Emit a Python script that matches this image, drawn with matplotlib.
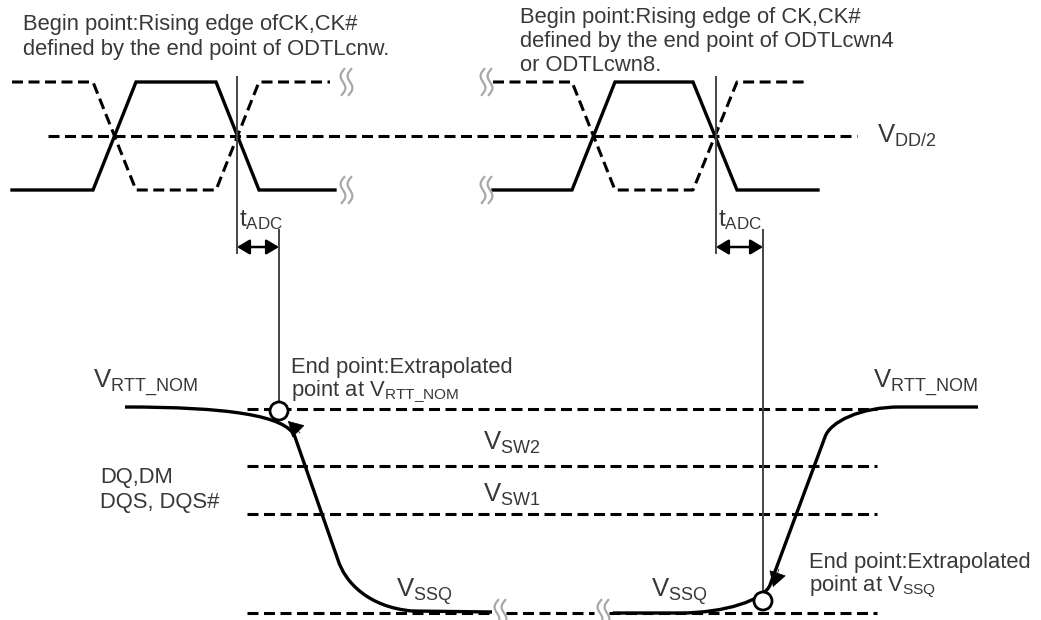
import numpy as np
import matplotlib.pyplot as plt
from matplotlib.path import Path
from matplotlib.patches import PathPatch, Circle

plt.rcParams['font.family'] = ['Liberation Sans', 'DejaVu Sans']
plt.rcParams['mathtext.fontset'] = 'custom'
plt.rcParams['mathtext.rm'] = 'Liberation Sans'
plt.rcParams['mathtext.default'] = 'regular'

# ---- diagram values (pixel-ish units, y grows downward) ----
ck_high, ck_mid, ck_low = 82, 136, 190
ck_left_x = [12, 93, 136, 216, 259, 335]
ckb_left_x = [12, 93, 136, 216, 259, 330]
ck_right_x = [493, 572, 615, 693, 737, 818]
ckb_right_x = [493, 572, 615, 693, 737, 808]
ck_y = [ck_low, ck_low, ck_high, ck_high, ck_low, ck_low]
ckb_y = [ck_high, ck_high, ck_low, ck_low, ck_high, ck_high]
vdd2_span = [48, 857]

v_rtt, v_sw2, v_sw1, v_ssq = 409, 466, 514, 613
level_span = [247, 877]
ssq_segments = [(247, 490), (506, 594), (609, 877)]

# begin points (clock crossing) and end points (extrapolated)
begin_x = [237, 716]
end_x = [279, 763]
end_y = [411, 601]
tadc_y = 247

squiggles = [(343, ck_high), (343, ck_low), (483, ck_high), (483, ck_low),
             (497, v_ssq), (600, v_ssq)]

# DQ falling edge (left) and rising edge (right), bezier control points
dq_fall = [(125, 407), (225, 407), (287, 415), (295, 437), (338, 560),
           (345, 582), (368, 607), (412, 611), (492, 612)]
dq_fall_codes = [Path.MOVETO, Path.CURVE4, Path.CURVE4, Path.CURVE4, Path.LINETO,
                 Path.CURVE4, Path.CURVE4, Path.CURVE4, Path.LINETO]
dq_rise = [(613, 613), (680, 613), (725, 613), (764, 600), (770, 585),
           (825, 437), (830, 422), (860, 407), (900, 407), (978, 407)]
dq_rise_codes = [Path.MOVETO, Path.LINETO, Path.CURVE4, Path.CURVE4, Path.CURVE4,
                 Path.LINETO, Path.CURVE4, Path.CURVE4, Path.CURVE4, Path.LINETO]

left_note = ['Begin point:Rising edge ofCK,CK#', 'defined by the end point of ODTLcnw.']
right_note = ['Begin point:Rising edge of CK,CK#', 'defined by the end point of ODTLcwn4',
              'or ODTLcwn8.']

txt = '#383838'
dash = (0, (3.6, 1.8))
lw_wave = 2.4
lw_dash = 2.2
fs = 15.8
fv = 18.5

fig = plt.figure(figsize=(10.41, 6.2), dpi=100)
ax = fig.add_axes([0, 0, 1, 1])
ax.set_xlim(0, 1041)
ax.set_ylim(620, 0)
ax.axis('off')

# clock waveforms
ax.plot(vdd2_span, [ck_mid, ck_mid], color='k', lw=lw_dash, ls=dash)
for xs in (ck_left_x, ck_right_x):
    ax.plot(xs, ck_y, color='k', lw=lw_wave, solid_joinstyle='miter')
for xs in (ckb_left_x, ckb_right_x):
    ax.plot(xs, ckb_y, color='k', lw=lw_dash, ls=dash)

# squiggles (break marks)
def squiggle(x0, y0):
    t = np.linspace(0, 1, 40)
    for dx in (0, 7):
        ax.plot(x0 + dx - 3 * np.sin(2 * np.pi * t) - 2.5 * (t - 0.5),
                y0 - 13 + 26 * t, color='#a8a8a8', lw=1.6, zorder=4)

for sx, sy in squiggles:
    squiggle(sx, sy)

# DQ level lines
for lv in (v_rtt, v_sw2, v_sw1):
    ax.plot(level_span, [lv, lv], color='k', lw=lw_dash, ls=dash)
for a, b in ssq_segments:
    ax.plot([a, b], [v_ssq, v_ssq], color='k', lw=lw_dash, ls=dash)

# DQ waveforms
ax.add_patch(PathPatch(Path(dq_fall, dq_fall_codes), fill=False, lw=lw_wave, ec='k', zorder=3))
ax.add_patch(PathPatch(Path(dq_rise, dq_rise_codes), fill=False, lw=lw_wave, ec='k', zorder=3))

# timing marker lines and tADC arrows
for bx, ex, ey in zip(begin_x, end_x, end_y):
    ax.plot([bx, bx], [77, 253], color='#444444', lw=1.4)
    ax.plot([ex, ex], [230, ey - 9], color='#444444', lw=1.4)
    ax.annotate('', xy=(ex, tadc_y), xytext=(bx, tadc_y),
                arrowprops=dict(arrowstyle='<|-|>,head_length=0.5,head_width=0.3',
                                color='k', lw=1.8, mutation_scale=15,
                                shrinkA=0, shrinkB=0))
    ax.text(bx + 2, 226, r'$t_{ADC}$', fontsize=17.5, color=txt, ha='left', va='baseline')
    ax.add_patch(Circle((ex, ey), 9, fc='white', ec='k', lw=2, zorder=5))

# small arrowheads on the extrapolation
head = '-|>,head_length=0.55,head_width=0.32'
ax.annotate('', xy=(288, 421), xytext=(300, 433),
            arrowprops=dict(arrowstyle=head, color='k', lw=0.5, mutation_scale=18,
                            shrinkA=0, shrinkB=0), zorder=6)
ax.annotate('', xy=(773, 587), xytext=(779, 569),
            arrowprops=dict(arrowstyle=head, color='k', lw=0.5, mutation_scale=18,
                            shrinkA=0, shrinkB=0), zorder=6)

# texts
for i, line in enumerate(left_note):
    ax.text(23, 30 + 24.5 * i, line, fontsize=fs, color=txt, ha='left', va='baseline')
for i, line in enumerate(right_note):
    ax.text(520, 23 + 24 * i, line, fontsize=fs, color=txt, ha='left', va='baseline')
ax.text(877, 143, r'V$_{DD/2}$', fontsize=fv, color=txt, ha='left', va='baseline')

ax.text(93, 389, r'V$_{RTT\_NOM}$', fontsize=fv, color=txt, ha='left', va='baseline')
ax.text(873, 389, r'V$_{RTT\_NOM}$', fontsize=fv, color=txt, ha='left', va='baseline')
ax.text(291, 373, 'End point:Extrapolated', fontsize=fs, color=txt, ha='left', va='baseline')
ax.text(291, 396, r'point at V$_{RTT\_NOM}$', fontsize=fs, color=txt, ha='left', va='baseline')
ax.text(809, 568, 'End point:Extrapolated', fontsize=fs, color=txt, ha='left', va='baseline')
ax.text(809, 591, r'point at V$_{SSQ}$', fontsize=fs, color=txt, ha='left', va='baseline')

ax.text(483, 450, r'V$_{SW2}$', fontsize=fv, color=txt, ha='left', va='baseline')
ax.text(483, 502, r'V$_{SW1}$', fontsize=fv, color=txt, ha='left', va='baseline')
ax.text(396, 597, r'V$_{SSQ}$', fontsize=fv, color=txt, ha='left', va='baseline')
ax.text(651, 597, r'V$_{SSQ}$', fontsize=fv, color=txt, ha='left', va='baseline')

ax.text(100, 483, 'DQ,DM', fontsize=fs, color=txt, ha='left', va='baseline')
ax.text(100, 508, 'DQS, DQS#', fontsize=fs, color=txt, ha='left', va='baseline')

fig.savefig('out.png', dpi=100)
